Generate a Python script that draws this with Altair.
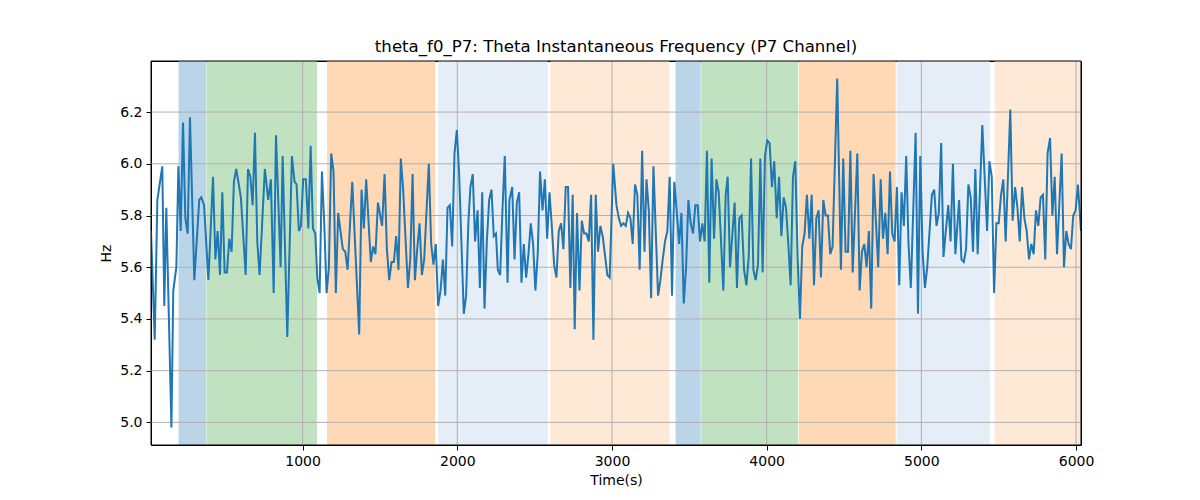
import altair as alt
import pandas as pd

TITLE = "theta_f0_P7: Theta Instantaneous Frequency (P7 Channel)"
FONT = "DejaVu Sans"

# time (s) and theta frequency (Hz)
time_s = [
    20, 44, 61, 93, 106, 119, 152, 164, 184, 197,
    212, 227, 242, 257, 272, 300, 332, 345, 363, 391,
    421, 436, 451, 466, 481, 496, 511, 526, 541, 556,
    571, 601, 632, 647, 662, 677, 692, 707, 722, 756,
    778, 795, 813, 828, 858, 871, 901, 931, 948, 961,
    976, 989, 1004, 1021, 1037, 1052, 1067, 1082, 1095, 1110,
    1125, 1140, 1155, 1170, 1185, 1200, 1215, 1230, 1245, 1260,
    1276, 1291, 1321, 1366, 1381, 1396, 1411, 1441, 1456, 1471,
    1487, 1514, 1530, 1545, 1560, 1575, 1590, 1605, 1620, 1635,
    1650, 1681, 1696, 1711, 1726, 1741, 1756, 1771, 1786, 1816,
    1831, 1846, 1861, 1876, 1892, 1907, 1922, 1937, 1952, 1967,
    1982, 1997, 2012, 2042, 2057, 2072, 2085, 2100, 2115, 2131,
    2146, 2161, 2176, 2191, 2206, 2221, 2236, 2250, 2262, 2277,
    2292, 2307, 2325, 2337, 2355, 2370, 2385, 2400, 2415, 2430,
    2445, 2460, 2475, 2490, 2505, 2520, 2535, 2551, 2566, 2581,
    2596, 2611, 2626, 2641, 2656, 2671, 2686, 2701, 2716, 2731,
    2746, 2759, 2774, 2790, 2805, 2820, 2835, 2850, 2865, 2880,
    2895, 2910, 2925, 2940, 2970, 2985, 3008, 3029, 3044, 3059,
    3074, 3089, 3104, 3119, 3134, 3149, 3164, 3179, 3195, 3210,
    3223, 3238, 3253, 3268, 3298, 3313, 3328, 3343, 3358, 3373,
    3388, 3403, 3418, 3434, 3449, 3464, 3479, 3494, 3509, 3524,
    3539, 3554, 3569, 3584, 3599, 3614, 3629, 3644, 3660, 3675,
    3690, 3720, 3735, 3748, 3763, 3793, 3808, 3823, 3838, 3854,
    3869, 3884, 3899, 3914, 3929, 3944, 3959, 3974, 3989, 4004,
    4019, 4034, 4049, 4065, 4080, 4095, 4110, 4125, 4140, 4155,
    4170, 4185, 4200, 4215, 4230, 4245, 4260, 4276, 4291, 4306,
    4321, 4336, 4351, 4366, 4381, 4396, 4411, 4426, 4456, 4480,
    4495, 4510, 4526, 4541, 4556, 4586, 4601, 4616, 4631, 4646,
    4661, 4676, 4691, 4706, 4721, 4737, 4752, 4767, 4782, 4797,
    4812, 4827, 4842, 4857, 4872, 4887, 4902, 4917, 4932, 4963,
    4978, 4993, 5008, 5023, 5038, 5068, 5083, 5098, 5113, 5128,
    5143, 5158, 5174, 5189, 5204, 5220, 5244, 5259, 5274, 5289,
    5304, 5319, 5334, 5349, 5364, 5394, 5425, 5440, 5455, 5470,
    5485, 5500, 5515, 5530, 5545, 5575, 5590, 5606, 5621, 5636,
    5651, 5666, 5681, 5696, 5711, 5726, 5741, 5756, 5771, 5786,
    5801, 5816, 5832, 5847, 5862, 5877, 5907, 5922, 5937, 5952,
    5967, 5982, 5997, 6012, 6032,
]
freq_hz = [
    5.74, 5.32, 5.86, 5.99, 5.45, 5.83, 4.98, 5.51, 5.60, 5.99,
    5.74, 6.16, 5.79, 5.73, 6.18, 5.55, 5.86, 5.87, 5.84, 5.55,
    5.95, 5.63, 5.74, 5.57, 5.89, 5.58, 5.58, 5.71, 5.66, 5.93,
    5.98, 5.87, 5.57, 5.98, 5.95, 5.84, 6.12, 5.70, 5.57, 5.98,
    5.86, 5.94, 5.50, 6.11, 5.60, 6.03, 5.33, 6.03, 5.93, 5.92,
    5.74, 5.76, 5.94, 5.94, 5.75, 6.07, 5.75, 5.73, 5.56, 5.50,
    5.97, 5.77, 5.50, 5.60, 6.04, 5.97, 5.50, 5.81, 5.74, 5.67,
    5.66, 5.59, 5.93, 5.34, 5.90, 5.75, 5.94, 5.62, 5.68, 5.65,
    5.85, 5.76, 5.96, 5.67, 5.55, 5.62, 5.62, 5.72, 5.59, 6.02,
    5.90, 5.52, 5.63, 5.96, 5.55, 5.67, 5.77, 5.57, 5.63, 6.00,
    5.69, 5.61, 5.69, 5.45, 5.51, 5.63, 5.49, 5.83, 5.84, 5.68,
    6.04, 6.13, 5.96, 5.42, 5.49, 5.78, 5.91, 5.96, 5.70, 5.82,
    5.52, 5.89, 5.44, 5.70, 5.86, 5.90, 5.72, 5.73, 5.59, 5.57,
    5.82, 6.03, 5.54, 5.86, 5.91, 5.63, 5.85, 5.89, 5.54, 5.69,
    5.56, 5.65, 5.77, 5.69, 5.51, 5.65, 5.97, 5.82, 5.94, 5.71,
    5.89, 5.76, 5.61, 5.56, 5.74, 5.77, 5.67, 5.91, 5.91, 5.52,
    5.88, 5.36, 5.81, 5.51, 5.78, 5.73, 5.73, 5.70, 5.88, 5.32,
    5.88, 5.66, 5.76, 5.72, 5.57, 5.56, 6.00, 5.84, 5.79, 5.76,
    5.77, 5.76, 5.81, 5.79, 5.69, 5.92, 5.88, 5.59, 6.05, 5.66,
    5.94, 5.82, 5.48, 5.99, 5.49, 5.55, 5.63, 5.70, 5.74, 5.95,
    5.49, 5.93, 5.82, 5.69, 5.81, 5.46, 5.60, 5.86, 5.77, 5.73,
    5.84, 5.84, 5.70, 5.77, 5.70, 6.05, 5.54, 6.02, 5.71, 5.94,
    5.89, 5.51, 5.88, 5.95, 5.60, 5.85, 5.52, 5.79, 5.80, 5.59,
    5.53, 5.64, 6.02, 5.59, 5.55, 5.61, 6.02, 5.58, 6.03, 6.09,
    6.08, 5.91, 6.01, 5.79, 5.95, 5.72, 5.87, 5.83, 5.69, 5.53,
    5.95, 6.01, 5.64, 5.40, 5.68, 5.73, 5.88, 5.71, 5.88, 5.53,
    5.79, 5.82, 5.56, 5.86, 5.80, 5.80, 5.65, 5.68, 6.33, 5.59,
    6.02, 5.66, 5.66, 6.05, 5.58, 6.04, 5.51, 5.66, 5.69, 5.60,
    5.74, 5.44, 5.96, 5.78, 5.60, 5.94, 5.71, 5.81, 5.65, 5.97,
    5.73, 5.70, 5.91, 5.53, 5.89, 5.76, 6.03, 5.69, 5.52, 6.12,
    5.42, 6.03, 5.66, 5.52, 5.60, 5.88, 5.90, 5.76, 5.81, 6.08,
    5.64, 5.74, 5.84, 5.70, 6.00, 5.65, 5.86, 5.63, 5.62, 5.67,
    5.92, 5.87, 5.66, 5.98, 5.65, 6.15, 5.74, 6.01, 5.95, 5.50,
    5.77, 5.77, 5.88, 5.94, 5.70, 6.21, 5.78, 5.91, 5.83, 5.70,
    5.91, 5.79, 5.74, 5.63, 5.69, 5.65, 5.82, 5.76, 5.87, 5.88,
    5.63, 6.04, 6.10, 5.80, 5.95, 5.65, 6.04, 5.60, 5.74, 5.69,
    5.67, 5.80, 5.82, 5.92, 5.74,
]

# shaded stage spans
span_start = [198, 378, 1158, 1876, 2602, 3411, 3576, 4208, 4840, 5474]
span_end = [375, 1093, 1858, 2585, 3372, 3573, 4204, 4834, 5442, 6032]
span_stage = ["s1", "s2", "s3", "s4", "s5", "s1", "s2", "s3", "s4", "s5"]

x_ticks = [1000, 2000, 3000, 4000, 5000, 6000]
y_ticks = [5.0, 5.2, 5.4, 5.6, 5.8, 6.0, 6.2]
x_limits = [20, 6032]
y_limits = [4.9125, 6.3975]

signal = pd.DataFrame({"t": time_s, "hz": freq_hz})
spans = pd.DataFrame({"start": span_start, "end": span_end, "stage": span_stage})

x_scale = alt.Scale(domain=x_limits, nice=False, zero=False)
y_scale = alt.Scale(domain=y_limits, nice=False, zero=False)
stage_colors = alt.Scale(
    domain=["s1", "s2", "s3", "s4", "s5"],
    range=["#bad4e8", "#c0e2c0", "#ffd8b6", "#e5edf7", "#fee9d6"],
)

span_layer = alt.Chart(spans).mark_rect(strokeWidth=0).encode(
    x=alt.X("start:Q", scale=x_scale, title="Time(s)"),
    x2="end:Q",
    color=alt.Color("stage:N", scale=stage_colors, legend=None),
)

vgrid = alt.Chart(pd.DataFrame({"gx": x_ticks})).mark_rule(
    color="#b0b0b0", strokeWidth=1
).encode(x=alt.X("gx:Q", scale=x_scale, title="Time(s)"))

hgrid = alt.Chart(pd.DataFrame({"gy": y_ticks})).mark_rule(
    color="#b0b0b0", strokeWidth=1
).encode(y=alt.Y("gy:Q", scale=y_scale, title="Hz"))

line = alt.Chart(signal).mark_line(color="#1f77b4", strokeWidth=2, clip=True).encode(
    x=alt.X(
        "t:Q",
        scale=x_scale,
        title="Time(s)",
        axis=alt.Axis(values=x_ticks, format="d", grid=False),
    ),
    y=alt.Y(
        "hz:Q",
        scale=y_scale,
        title="Hz",
        axis=alt.Axis(values=y_ticks, format=".1f", grid=False),
    ),
)

# axes frame drawn on top of the spans, like matplotlib spines
frame = alt.Chart(pd.DataFrame({"k": [0]})).mark_rect(
    fillOpacity=0, stroke="black", strokeWidth=1
).encode(
    x=alt.datum(x_limits[0], scale=x_scale),
    x2=alt.datum(x_limits[1]),
    y=alt.datum(y_limits[0], scale=y_scale),
    y2=alt.datum(y_limits[1]),
)

chart = (
    alt.layer(span_layer, vgrid, hgrid, line, frame)
    .properties(
        width=930,
        height=384,
        autosize=alt.AutoSizeParams(type="none"),
        padding={"left": 143, "top": 53, "right": 110, "bottom": 50},
        title=alt.TitleParams(
            TITLE,
            font=FONT,
            fontSize=16.6,
            fontWeight="normal",
            color="black",
            anchor="middle",
            frame="group",
            offset=5,
        ),
    )
    .configure_view(stroke="black", strokeWidth=1)
    .configure_axis(
        labelFont=FONT,
        labelFontSize=14,
        labelColor="black",
        titleFont=FONT,
        titleFontSize=14,
        titleFontWeight="normal",
        titleColor="black",
        tickColor="black",
        tickSize=5,
        labelPadding=4,
        domain=False,
    )
    .configure_axisX(titlePadding=5)
    .configure_axisY(titlePadding=6)
)

chart.save("out.html", embed_options={"renderer": "svg", "actions": False})
